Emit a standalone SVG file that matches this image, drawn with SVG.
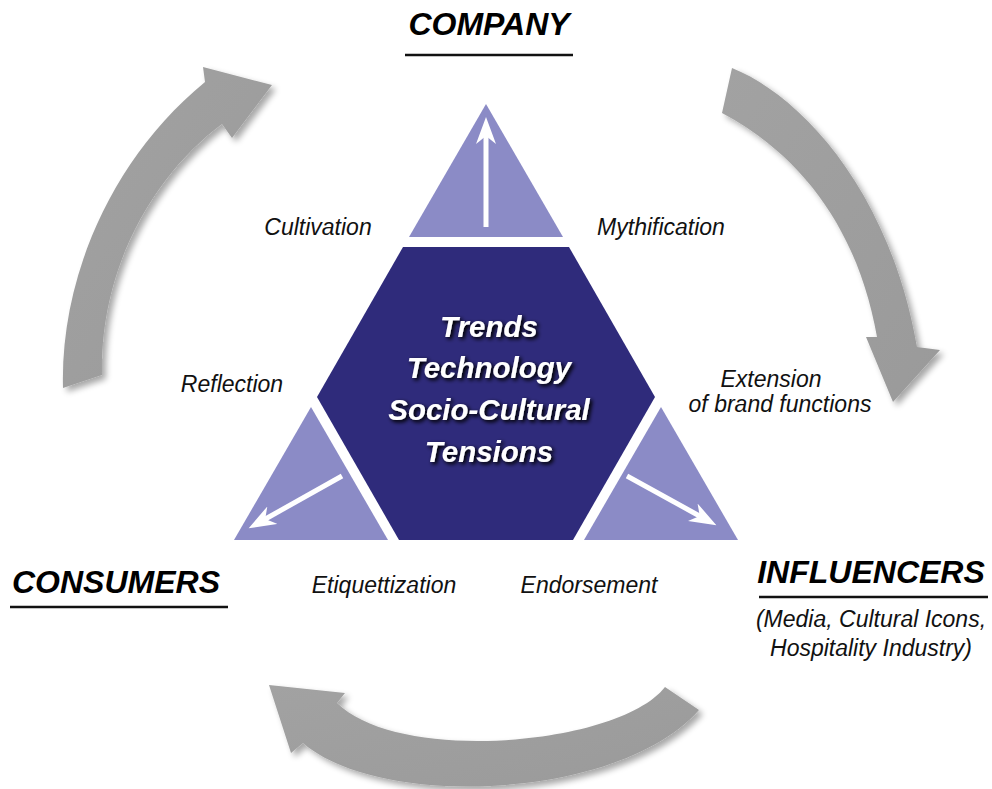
<svg xmlns="http://www.w3.org/2000/svg" width="992" height="789" viewBox="0 0 992 789">
  <defs>
    <style>
      .lbl { font-family: "Liberation Sans", Arial, sans-serif; font-style: italic; font-size: 23px; fill: #111; text-anchor: middle; }
      .hdr { font-family: "Liberation Sans", Arial, sans-serif; font-style: italic; font-weight: bold; font-size: 32px; fill: #000; text-anchor: middle; }
      .ctr { font-family: "Liberation Sans", Arial, sans-serif; font-style: italic; font-weight: bold; font-size: 29.5px; fill: #fff; text-anchor: middle; }
      .uline { stroke: #111; stroke-width: 2.5; }
      .tri { fill: #8b8bc6; }
      .hex { fill: #2f2b7b; }
      .cyc { fill: url(#grayGrad); filter: url(#arrowShadow); }
      .warrow { stroke: #fff; stroke-width: 5; fill: none; marker-end: url(#whiteHead); }
    </style>
    <linearGradient id="grayGrad" x1="0" y1="0" x2="1" y2="1">
      <stop offset="0" stop-color="#a2a2a2"/>
      <stop offset="1" stop-color="#9a9a9a"/>
    </linearGradient>
    <filter id="arrowShadow" x="-20%" y="-20%" width="140%" height="140%">
      <feGaussianBlur in="SourceAlpha" stdDeviation="3"/>
      <feOffset dx="4" dy="4" result="b"/>
      <feComponentTransfer><feFuncA type="linear" slope="0.35"/></feComponentTransfer>
      <feMerge><feMergeNode/><feMergeNode in="SourceGraphic"/></feMerge>
    </filter>
    <filter id="textShadow" x="-20%" y="-30%" width="140%" height="160%">
      <feGaussianBlur in="SourceAlpha" stdDeviation="2"/>
      <feOffset dx="2" dy="2"/>
      <feComponentTransfer><feFuncA type="linear" slope="1.2"/></feComponentTransfer>
      <feMerge><feMergeNode/><feMergeNode in="SourceGraphic"/></feMerge>
    </filter>
    <marker id="whiteHead" markerUnits="userSpaceOnUse" viewBox="0 0 28 22" refX="14" refY="11" markerWidth="28" markerHeight="22" orient="auto">
      <path d="M0,1 L27,11 L0,21 L8,11 Z" fill="#fff"/>
    </marker>
  </defs>

  <rect width="992" height="789" fill="#fff"/>

  <!-- Central pieces -->
  <g id="top-triangle"><polygon class="tri" points="486,104 563,237 409,237"/></g>
  <g id="left-triangle"><polygon class="tri" points="311,407 388,540 234,540"/></g>
  <g id="right-triangle"><polygon class="tri" points="661,407 738,540 584,540"/></g>
  <g id="center">
    <polygon class="hex" points="403,247 569,247 655,397 573,540 399,540 317,397"/>
    <g filter="url(#textShadow)">
      <text class="ctr" x="489" y="337">Trends</text>
      <text class="ctr" x="489" y="378">Technology</text>
      <text class="ctr" x="489" y="420">Socio-Cultural</text>
      <text class="ctr" x="489" y="462">Tensions</text>
    </g>
  </g>

  <!-- Connectors -->
  <g id="connectors">
    <path class="cyc" d="M63,388 C60,280 110,160 205,82 L203,67 L272,85 L232,138 L222,124 C160,170 100,260 102,375 Z"/>
    <path class="cyc" d="M732,68 C800,95 890,190 917,347 L940,350 L893,402 L866,337 L877,337 C860,240 810,160 722,113 Z"/>
    <path class="cyc" d="M665,687 C620,745 400,765 337,703 L345,693 L269,685 L291,753 L303,743 C380,810 620,800 699,710 Z"/>
    <line class="warrow" x1="486" y1="227" x2="486" y2="130"/>
    <line class="warrow" x1="342" y1="476" x2="260" y2="522"/>
    <line class="warrow" x1="627" y1="476" x2="705" y2="519"/>
  </g>

  <!-- Headers -->
  <g id="company">
    <text class="hdr" x="489" y="35">COMPANY</text>
    <line class="uline" x1="405" y1="55" x2="573" y2="55"/>
  </g>
  <g id="consumers">
    <text class="hdr" x="116" y="593">CONSUMERS</text>
    <line class="uline" x1="10" y1="607" x2="228" y2="607"/>
  </g>
  <g id="influencers">
    <text class="hdr" x="871" y="583">INFLUENCERS</text>
    <line class="uline" x1="759" y1="597" x2="988" y2="597"/>
    <text class="lbl" x="871" y="627">(Media, Cultural Icons,</text>
    <text class="lbl" x="871" y="656">Hospitality Industry)</text>
  </g>

  <!-- Labels -->
  <g id="labels">
    <text class="lbl" x="318" y="235">Cultivation</text>
    <text class="lbl" x="661" y="235">Mythification</text>
    <text class="lbl" x="232" y="392">Reflection</text>
    <text class="lbl" x="771" y="387">Extension</text>
    <text class="lbl" x="780" y="412">of brand functions</text>
    <text class="lbl" x="384" y="593">Etiquettization</text>
    <text class="lbl" x="589" y="593">Endorsement</text>
  </g>
</svg>
